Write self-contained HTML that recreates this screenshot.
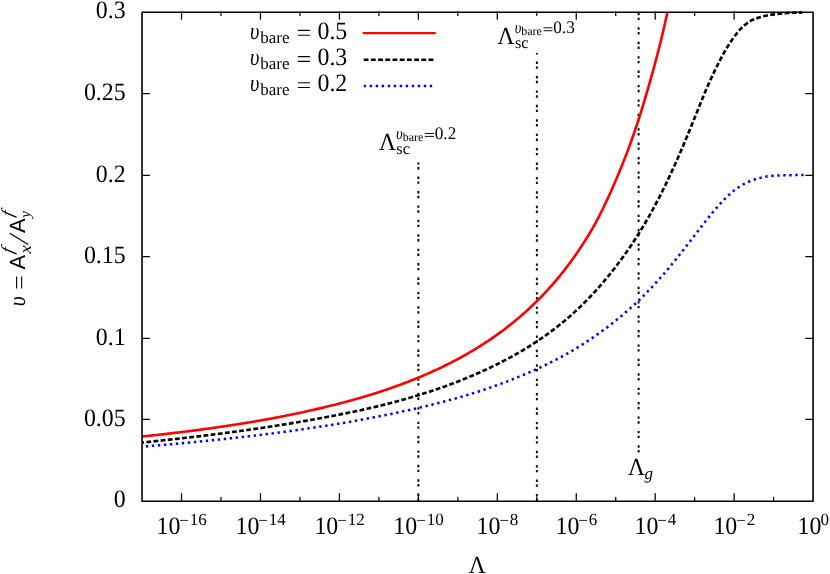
<!DOCTYPE html>
<html><head><meta charset="utf-8"><title>plot</title>
<style>html,body{margin:0;padding:0;background:#fff;}body{width:830px;height:574px;position:relative;overflow:hidden;font-family:"Liberation Serif",serif;}</style>
</head><body>
<svg width="830" height="574" viewBox="0 0 830 574" style="position:absolute;left:0;top:0;will-change:transform;-webkit-font-smoothing:antialiased">
<rect width="830" height="574" fill="#fff"/>
<defs><clipPath id="pc"><rect x="142.05" y="11.9" width="671.03" height="489.00"/></clipPath></defs>
<path d="M181.52,500.9v-7.3M181.52,11.9v7.3M220.99,500.9v-3.6M220.99,11.9v3.6M260.47,500.9v-7.3M260.47,11.9v7.3M299.94,500.9v-3.6M299.94,11.9v3.6M339.41,500.9v-7.3M339.41,11.9v7.3M378.88,500.9v-3.6M378.88,11.9v3.6M418.36,500.9v-7.3M418.36,11.9v7.3M457.83,500.9v-3.6M457.83,11.9v3.6M497.30,500.9v-7.3M497.30,11.9v7.3M536.77,500.9v-3.6M536.77,11.9v3.6M576.25,500.9v-7.3M576.25,11.9v7.3M615.72,500.9v-3.6M615.72,11.9v3.6M655.19,500.9v-7.3M655.19,11.9v7.3M694.66,500.9v-3.6M694.66,11.9v3.6M734.14,500.9v-7.3M734.14,11.9v7.3M773.61,500.9v-3.6M773.61,11.9v3.6M142.05,419.35h7.3M813.08,419.35h-7.3M142.05,338.30h7.3M813.08,338.30h-7.3M142.05,256.50h7.3M813.08,256.50h-7.3M142.05,175.30h7.3M813.08,175.30h-7.3M142.05,93.60h7.3M813.08,93.60h-7.3" stroke="#000" stroke-width="1.25" stroke-linecap="round" fill="none"/>
<path d="M418.36,500.9V162.5" stroke="#000" stroke-width="1.95" stroke-dasharray="2.402 2.402 2.402 7.207" fill="none"/>
<path d="M536.86,501.2V53.1" stroke="#000" stroke-width="1.95" stroke-dasharray="2.402 2.402 2.402 7.207" fill="none"/>
<path d="M638.60,452.5V11.9" stroke="#000" stroke-width="1.95" stroke-dasharray="2.402 2.402 2.402 7.207" fill="none"/>
<path d="M142.05,446.68 L143.38,446.58 L144.70,446.47 L146.03,446.36 L147.35,446.25 L148.68,446.14 L150.00,446.03 L151.33,445.92 L152.66,445.81 L153.98,445.70 L155.31,445.59 L156.63,445.47 L157.96,445.36 L159.28,445.25 L160.61,445.13 L161.94,445.02 L163.26,444.90 L164.59,444.79 L165.91,444.67 L167.24,444.56 L168.57,444.44 L169.89,444.32 L171.22,444.20 L172.54,444.08 L173.87,443.96 L175.19,443.85 L176.52,443.72 L177.85,443.60 L179.17,443.48 L180.50,443.36 L181.82,443.24 L183.15,443.12 L184.47,442.99 L185.80,442.87 L187.13,442.74 L188.45,442.62 L189.78,442.49 L191.10,442.37 L192.43,442.24 L193.75,442.11 L195.08,441.98 L196.41,441.86 L197.73,441.73 L199.06,441.60 L200.38,441.47 L201.71,441.34 L203.03,441.20 L204.36,441.07 L205.69,440.94 L207.01,440.81 L208.34,440.67 L209.66,440.54 L210.99,440.40 L212.31,440.27 L213.64,440.13 L214.97,439.99 L216.29,439.86 L217.62,439.72 L218.94,439.58 L220.27,439.44 L221.60,439.30 L222.92,439.16 L224.25,439.01 L225.57,438.87 L226.90,438.73 L228.22,438.59 L229.55,438.44 L230.88,438.30 L232.20,438.15 L233.53,438.00 L234.85,437.86 L236.18,437.71 L237.50,437.56 L238.83,437.41 L240.16,437.26 L241.48,437.11 L242.81,436.96 L244.13,436.81 L245.46,436.65 L246.78,436.50 L248.11,436.35 L249.44,436.19 L250.76,436.04 L252.09,435.88 L253.41,435.72 L254.74,435.56 L256.06,435.40 L257.39,435.24 L258.72,435.08 L260.04,434.92 L261.37,434.76 L262.69,434.60 L264.02,434.43 L265.34,434.27 L266.67,434.10 L268.00,433.94 L269.32,433.77 L270.65,433.60 L271.97,433.43 L273.30,433.26 L274.63,433.09 L275.95,432.92 L277.28,432.75 L278.60,432.58 L279.93,432.40 L281.25,432.23 L282.58,432.05 L283.91,431.88 L285.23,431.70 L286.56,431.52 L287.88,431.34 L289.21,431.16 L290.53,430.98 L291.86,430.80 L293.19,430.61 L294.51,430.43 L295.84,430.25 L297.16,430.06 L298.49,429.87 L299.81,429.69 L301.14,429.50 L302.47,429.31 L303.79,429.12 L305.12,428.92 L306.44,428.73 L307.77,428.54 L309.09,428.34 L310.42,428.15 L311.75,427.95 L313.07,427.75 L314.40,427.55 L315.72,427.35 L317.05,427.15 L318.37,426.95 L319.70,426.75 L321.03,426.54 L322.35,426.34 L323.68,426.13 L325.00,425.92 L326.33,425.71 L327.66,425.50 L328.98,425.29 L330.31,425.08 L331.63,424.87 L332.96,424.65 L334.28,424.43 L335.61,424.22 L336.94,424.00 L338.26,423.78 L339.59,423.56 L340.91,423.34 L342.24,423.11 L343.56,422.89 L344.89,422.66 L346.22,422.44 L347.54,422.21 L348.87,421.98 L350.19,421.75 L351.52,421.52 L352.84,421.28 L354.17,421.05 L355.50,420.81 L356.82,420.57 L358.15,420.33 L359.47,420.09 L360.80,419.85 L362.12,419.61 L363.45,419.37 L364.78,419.12 L366.10,418.87 L367.43,418.62 L368.75,418.37 L370.08,418.12 L371.41,417.87 L372.73,417.61 L374.06,417.36 L375.38,417.10 L376.71,416.84 L378.03,416.58 L379.36,416.32 L380.69,416.05 L382.01,415.79 L383.34,415.52 L384.66,415.25 L385.99,414.98 L387.31,414.71 L388.64,414.44 L389.97,414.16 L391.29,413.89 L392.62,413.61 L393.94,413.33 L395.27,413.04 L396.59,412.76 L397.92,412.48 L399.25,412.19 L400.57,411.90 L401.90,411.61 L403.22,411.32 L404.55,411.03 L405.87,410.73 L407.20,410.44 L408.53,410.14 L409.85,409.84 L411.18,409.54 L412.50,409.24 L413.83,408.94 L415.15,408.64 L416.48,408.33 L417.81,408.02 L419.13,407.72 L420.46,407.41 L421.78,407.09 L423.11,406.78 L424.44,406.46 L425.76,406.15 L427.09,405.83 L428.41,405.51 L429.74,405.18 L431.06,404.86 L432.39,404.53 L433.72,404.20 L435.04,403.87 L436.37,403.54 L437.69,403.20 L439.02,402.86 L440.34,402.52 L441.67,402.18 L443.00,401.83 L444.32,401.48 L445.65,401.13 L446.97,400.78 L448.30,400.43 L449.62,400.07 L450.95,399.71 L452.28,399.34 L453.60,398.98 L454.93,398.61 L456.25,398.24 L457.58,397.86 L458.90,397.48 L460.23,397.10 L461.56,396.72 L462.88,396.33 L464.21,395.94 L465.53,395.55 L466.86,395.15 L468.18,394.75 L469.51,394.35 L470.84,393.94 L472.16,393.53 L473.49,393.12 L474.81,392.70 L476.14,392.28 L477.47,391.85 L478.79,391.42 L480.12,390.99 L481.44,390.56 L482.77,390.12 L484.09,389.68 L485.42,389.23 L486.75,388.78 L488.07,388.33 L489.40,387.87 L490.72,387.41 L492.05,386.95 L493.37,386.49 L494.70,386.02 L496.03,385.54 L497.35,385.07 L498.68,384.59 L500.00,384.10 L501.33,383.62 L502.65,383.12 L503.98,382.63 L505.31,382.13 L506.63,381.63 L507.96,381.12 L509.28,380.61 L510.61,380.09 L511.93,379.57 L513.26,379.05 L514.59,378.52 L515.91,377.99 L517.24,377.46 L518.56,376.92 L519.89,376.37 L521.21,375.82 L522.54,375.27 L523.87,374.71 L525.19,374.15 L526.52,373.58 L527.84,373.01 L529.17,372.43 L530.50,371.85 L531.82,371.26 L533.15,370.67 L534.47,370.08 L535.80,369.48 L537.12,368.87 L538.45,368.26 L539.78,367.64 L541.10,367.02 L542.43,366.39 L543.75,365.76 L545.08,365.12 L546.40,364.48 L547.73,363.83 L549.06,363.17 L550.38,362.51 L551.71,361.85 L553.03,361.17 L554.36,360.50 L555.68,359.81 L557.01,359.12 L558.34,358.42 L559.66,357.72 L560.99,357.01 L562.31,356.29 L563.64,355.57 L564.96,354.84 L566.29,354.10 L567.62,353.35 L568.94,352.59 L570.27,351.83 L571.59,351.06 L572.92,350.28 L574.24,349.50 L575.57,348.70 L576.90,347.90 L578.22,347.09 L579.55,346.27 L580.87,345.44 L582.20,344.61 L583.53,343.77 L584.85,342.91 L586.18,342.05 L587.50,341.19 L588.83,340.31 L590.15,339.43 L591.48,338.53 L592.81,337.63 L594.13,336.72 L595.46,335.80 L596.78,334.87 L598.11,333.94 L599.43,332.99 L600.76,332.04 L602.09,331.07 L603.41,330.10 L604.74,329.12 L606.06,328.13 L607.39,327.13 L608.71,326.12 L610.04,325.10 L611.37,324.07 L612.69,323.03 L614.02,321.98 L615.34,320.92 L616.67,319.86 L617.99,318.78 L619.32,317.69 L620.65,316.59 L621.97,315.48 L623.30,314.36 L624.62,313.23 L625.95,312.08 L627.28,310.93 L628.60,309.76 L629.93,308.58 L631.25,307.38 L632.58,306.18 L633.90,304.96 L635.23,303.73 L636.56,302.48 L637.88,301.23 L639.21,299.96 L640.53,298.68 L641.86,297.38 L643.18,296.07 L644.51,294.75 L645.84,293.41 L647.16,292.06 L648.49,290.69 L649.81,289.32 L651.14,287.92 L652.46,286.52 L653.79,285.10 L655.12,283.66 L656.44,282.22 L657.77,280.75 L659.09,279.28 L660.42,277.79 L661.74,276.29 L663.07,274.77 L664.40,273.24 L665.72,271.69 L667.05,270.14 L668.37,268.57 L669.70,266.98 L671.02,265.39 L672.35,263.78 L673.68,262.16 L675.00,260.52 L676.33,258.88 L677.65,257.22 L678.98,255.56 L680.31,253.88 L681.63,252.20 L682.96,250.50 L684.28,248.80 L685.61,247.09 L686.93,245.38 L688.26,243.66 L689.59,241.93 L690.91,240.20 L692.24,238.47 L693.56,236.74 L694.89,235.00 L696.21,233.27 L697.54,231.54 L698.87,229.82 L700.19,228.09 L701.52,226.38 L702.84,224.68 L704.17,222.98 L705.49,221.30 L706.82,219.62 L708.15,217.97 L709.47,216.33 L710.80,214.71 L712.12,213.11 L713.45,211.53 L714.77,209.98 L716.10,208.45 L717.43,206.94 L718.75,205.44 L720.08,203.97 L721.40,202.53 L722.73,201.11 L724.05,199.73 L725.38,198.37 L726.71,197.06 L728.03,195.78 L729.36,194.55 L730.68,193.36 L732.01,192.21 L733.34,191.11 L734.66,190.06 L735.99,189.06 L737.31,188.11 L738.64,187.21 L739.96,186.36 L741.29,185.55 L742.62,184.77 L743.94,184.04 L745.27,183.34 L746.59,182.68 L747.92,182.06 L749.24,181.48 L750.57,180.93 L751.90,180.41 L753.22,179.93 L754.55,179.47 L755.87,179.05 L757.20,178.66 L758.52,178.29 L759.85,177.95 L761.18,177.63 L762.50,177.33 L763.83,177.06 L765.15,176.81 L766.48,176.58 L767.80,176.36 L769.13,176.17 L770.46,176.01 L771.78,175.87 L773.11,175.75 L774.43,175.65 L775.76,175.58 L777.08,175.51 L778.41,175.46 L779.74,175.42 L781.06,175.39 L782.39,175.36 L783.71,175.34 L785.04,175.31 L786.37,175.29 L787.69,175.26 L789.02,175.23 L790.34,175.20 L791.67,175.16 L792.99,175.13 L794.32,175.10 L795.65,175.07 L796.97,175.05 L798.30,175.03 L799.62,175.01 L800.95,175.00 L802.27,174.98 L803.60,174.97" stroke="#0000ff" stroke-width="2.55" stroke-dasharray="2.402 3.615" stroke-dashoffset="2.2" fill="none" stroke-linejoin="round"/>
<path d="M142.05,442.53 L143.38,442.40 L144.70,442.26 L146.03,442.12 L147.35,441.99 L148.68,441.85 L150.01,441.71 L151.33,441.57 L152.66,441.43 L153.98,441.29 L155.31,441.15 L156.64,441.01 L157.96,440.87 L159.29,440.73 L160.62,440.59 L161.94,440.45 L163.27,440.30 L164.60,440.16 L165.92,440.02 L167.25,439.87 L168.58,439.73 L169.90,439.58 L171.23,439.44 L172.56,439.29 L173.88,439.14 L175.21,438.99 L176.54,438.85 L177.86,438.70 L179.19,438.55 L180.52,438.40 L181.85,438.25 L183.17,438.10 L184.50,437.95 L185.83,437.79 L187.16,437.64 L188.48,437.49 L189.81,437.33 L191.14,437.18 L192.47,437.02 L193.79,436.87 L195.12,436.71 L196.45,436.55 L197.78,436.40 L199.10,436.24 L200.43,436.08 L201.76,435.92 L203.09,435.76 L204.42,435.60 L205.74,435.43 L207.07,435.27 L208.40,435.11 L209.73,434.95 L211.06,434.78 L212.38,434.62 L213.71,434.45 L215.04,434.28 L216.37,434.12 L217.70,433.95 L219.03,433.78 L220.35,433.61 L221.68,433.44 L223.01,433.27 L224.34,433.10 L225.67,432.92 L227.00,432.75 L228.33,432.58 L229.65,432.40 L230.98,432.22 L232.31,432.05 L233.64,431.87 L234.97,431.69 L236.30,431.51 L237.63,431.33 L238.96,431.15 L240.28,430.97 L241.61,430.79 L242.94,430.61 L244.27,430.42 L245.60,430.24 L246.93,430.05 L248.26,429.86 L249.59,429.68 L250.92,429.49 L252.25,429.30 L253.58,429.11 L254.90,428.92 L256.23,428.72 L257.56,428.53 L258.89,428.34 L260.22,428.14 L261.55,427.94 L262.88,427.75 L264.21,427.55 L265.54,427.35 L266.87,427.15 L268.20,426.95 L269.53,426.75 L270.86,426.54 L272.19,426.34 L273.52,426.13 L274.85,425.93 L276.18,425.72 L277.51,425.51 L278.84,425.30 L280.17,425.09 L281.50,424.88 L282.83,424.66 L284.15,424.45 L285.48,424.23 L286.81,424.02 L288.14,423.80 L289.47,423.58 L290.80,423.36 L292.13,423.14 L293.46,422.92 L294.79,422.69 L296.12,422.47 L297.45,422.24 L298.78,422.01 L300.11,421.79 L301.44,421.56 L302.77,421.32 L304.11,421.09 L305.44,420.86 L306.77,420.63 L308.10,420.39 L309.44,420.16 L310.77,419.92 L312.11,419.68 L313.44,419.45 L314.78,419.21 L316.11,418.97 L317.45,418.72 L318.79,418.48 L320.12,418.24 L321.46,417.99 L322.80,417.75 L324.14,417.50 L325.47,417.25 L326.81,417.00 L328.15,416.75 L329.49,416.50 L330.83,416.24 L332.17,415.99 L333.51,415.73 L334.85,415.47 L336.19,415.21 L337.53,414.95 L338.87,414.69 L340.21,414.42 L341.55,414.16 L342.89,413.89 L344.23,413.62 L345.57,413.35 L346.91,413.08 L348.25,412.80 L349.59,412.53 L350.94,412.25 L352.28,411.97 L353.62,411.69 L354.96,411.40 L356.30,411.12 L357.64,410.83 L358.98,410.54 L360.32,410.25 L361.66,409.96 L363.00,409.66 L364.34,409.37 L365.67,409.07 L367.01,408.76 L368.35,408.46 L369.69,408.16 L371.03,407.85 L372.36,407.54 L373.70,407.22 L375.04,406.91 L376.38,406.59 L377.71,406.27 L379.05,405.95 L380.38,405.63 L381.72,405.30 L383.05,404.97 L384.38,404.64 L385.72,404.30 L387.05,403.97 L388.38,403.63 L389.71,403.28 L391.05,402.94 L392.38,402.59 L393.71,402.24 L395.04,401.88 L396.36,401.53 L397.69,401.17 L399.02,400.81 L400.35,400.44 L401.67,400.07 L403.00,399.70 L404.32,399.33 L405.65,398.95 L406.97,398.57 L408.30,398.19 L409.63,397.80 L410.95,397.41 L412.28,397.02 L413.60,396.62 L414.93,396.23 L416.25,395.83 L417.58,395.42 L418.91,395.02 L420.23,394.61 L421.56,394.19 L422.88,393.78 L424.21,393.36 L425.54,392.93 L426.86,392.51 L428.19,392.08 L429.51,391.65 L430.84,391.21 L432.16,390.77 L433.49,390.33 L434.82,389.88 L436.14,389.43 L437.47,388.98 L438.79,388.52 L440.12,388.06 L441.44,387.60 L442.77,387.13 L444.10,386.66 L445.42,386.18 L446.75,385.70 L448.07,385.22 L449.40,384.73 L450.72,384.24 L452.05,383.75 L453.38,383.25 L454.70,382.74 L456.03,382.24 L457.35,381.72 L458.68,381.21 L460.00,380.69 L461.33,380.17 L462.66,379.64 L463.98,379.10 L465.31,378.57 L466.63,378.03 L467.96,377.48 L469.28,376.93 L470.61,376.37 L471.94,375.81 L473.26,375.25 L474.59,374.68 L475.91,374.11 L477.24,373.53 L478.57,372.94 L479.89,372.35 L481.22,371.76 L482.54,371.16 L483.87,370.56 L485.19,369.95 L486.52,369.33 L487.85,368.71 L489.17,368.09 L490.50,367.46 L491.82,366.83 L493.15,366.18 L494.47,365.54 L495.80,364.89 L497.13,364.23 L498.45,363.57 L499.78,362.90 L501.10,362.23 L502.43,361.54 L503.75,360.86 L505.08,360.16 L506.41,359.47 L507.73,358.76 L509.06,358.05 L510.38,357.33 L511.71,356.60 L513.03,355.87 L514.36,355.13 L515.69,354.38 L517.01,353.63 L518.34,352.87 L519.66,352.10 L520.99,351.33 L522.31,350.54 L523.64,349.75 L524.97,348.95 L526.29,348.15 L527.62,347.33 L528.94,346.51 L530.27,345.68 L531.60,344.84 L532.92,343.99 L534.25,343.13 L535.57,342.27 L536.90,341.39 L538.22,340.51 L539.55,339.62 L540.88,338.71 L542.20,337.80 L543.53,336.88 L544.85,335.95 L546.18,335.01 L547.50,334.06 L548.83,333.10 L550.16,332.13 L551.48,331.14 L552.81,330.15 L554.13,329.15 L555.46,328.13 L556.78,327.11 L558.11,326.07 L559.44,325.02 L560.76,323.96 L562.09,322.89 L563.41,321.81 L564.74,320.71 L566.06,319.60 L567.39,318.47 L568.72,317.33 L570.04,316.17 L571.37,315.00 L572.69,313.81 L574.02,312.61 L575.34,311.39 L576.67,310.15 L578.00,308.91 L579.32,307.64 L580.65,306.36 L581.97,305.07 L583.30,303.76 L584.63,302.43 L585.95,301.09 L587.28,299.74 L588.60,298.36 L589.93,296.98 L591.25,295.58 L592.58,294.16 L593.91,292.73 L595.23,291.29 L596.56,289.82 L597.88,288.35 L599.21,286.86 L600.53,285.35 L601.86,283.82 L603.19,282.28 L604.51,280.72 L605.84,279.14 L607.16,277.54 L608.49,275.92 L609.81,274.28 L611.14,272.62 L612.47,270.95 L613.79,269.26 L615.12,267.55 L616.44,265.82 L617.77,264.07 L619.09,262.31 L620.42,260.53 L621.75,258.73 L623.07,256.91 L624.40,255.07 L625.72,253.20 L627.05,251.31 L628.38,249.40 L629.70,247.46 L631.03,245.50 L632.35,243.52 L633.68,241.51 L635.00,239.47 L636.33,237.41 L637.66,235.32 L638.98,233.21 L640.31,231.07 L641.63,228.90 L642.96,226.70 L644.28,224.48 L645.61,222.23 L646.94,219.95 L648.26,217.64 L649.59,215.30 L650.91,212.93 L652.24,210.53 L653.56,208.11 L654.89,205.65 L656.22,203.16 L657.54,200.64 L658.87,198.09 L660.19,195.50 L661.52,192.89 L662.84,190.24 L664.17,187.56 L665.50,184.85 L666.82,182.11 L668.15,179.34 L669.47,176.53 L670.80,173.69 L672.12,170.82 L673.45,167.92 L674.78,164.99 L676.10,162.03 L677.43,159.03 L678.75,156.01 L680.08,152.96 L681.41,149.88 L682.73,146.77 L684.06,143.64 L685.38,140.48 L686.71,137.29 L688.03,134.09 L689.36,130.87 L690.69,127.62 L692.01,124.36 L693.34,121.09 L694.66,117.81 L695.99,114.51 L697.31,111.22 L698.64,107.92 L699.97,104.62 L701.29,101.32 L702.63,98.04 L703.99,94.77 L705.36,91.52 L706.75,88.29 L708.15,85.08 L709.56,81.91 L710.98,78.78 L712.40,75.69 L713.82,72.65 L715.25,69.66 L716.68,66.72 L718.10,63.86 L719.52,61.06 L720.94,58.33 L722.35,55.68 L723.78,53.11 L725.22,50.62 L726.65,48.23 L728.08,45.92 L729.50,43.71 L730.89,41.59 L732.25,39.56 L733.58,37.63 L734.91,35.80 L736.24,34.07 L737.56,32.43 L738.89,30.88 L740.21,29.42 L741.54,28.05 L742.86,26.77 L744.19,25.58 L745.51,24.46 L746.79,23.42 L748.02,22.45 L749.23,21.60 L750.44,20.86 L751.64,20.21 L752.85,19.65 L754.10,19.15 L755.37,18.70 L756.65,18.28 L757.94,17.88 L759.22,17.48 L760.51,17.07 L761.81,16.68 L763.10,16.33 L764.38,16.00 L765.67,15.71 L766.95,15.44 L768.22,15.19 L769.49,14.96 L770.75,14.76 L772.01,14.57 L773.27,14.40 L774.52,14.24 L775.77,14.10 L777.02,13.96 L778.27,13.84 L779.52,13.73 L780.77,13.63 L782.02,13.53 L783.27,13.40 L784.52,13.27 L785.78,13.13 L787.03,13.01 L788.29,12.90 L789.56,12.81 L790.83,12.76 L792.10,12.73 L793.37,12.69 L794.65,12.67 L795.92,12.64 L797.20,12.62 L798.48,12.59 L799.76,12.58 L801.04,12.56 L802.33,12.54" stroke="#000" stroke-width="2.65" stroke-dasharray="4.805 2.382" stroke-dashoffset="2.85" fill="none" stroke-linejoin="round"/>
<path d="M142.05,436.52 L143.11,436.41 L144.17,436.30 L145.24,436.19 L146.30,436.08 L147.36,435.96 L148.42,435.85 L149.49,435.74 L150.55,435.63 L151.61,435.51 L152.67,435.40 L153.73,435.28 L154.80,435.17 L155.86,435.05 L156.92,434.93 L157.98,434.82 L159.05,434.70 L160.11,434.58 L161.17,434.46 L162.23,434.34 L163.30,434.22 L164.36,434.10 L165.42,433.98 L166.49,433.86 L167.55,433.74 L168.61,433.61 L169.67,433.49 L170.74,433.37 L171.80,433.24 L172.86,433.12 L173.93,432.99 L174.99,432.86 L176.05,432.74 L177.12,432.61 L178.18,432.48 L179.24,432.35 L180.30,432.22 L181.37,432.09 L182.43,431.96 L183.49,431.83 L184.56,431.70 L185.62,431.57 L186.68,431.44 L187.75,431.30 L188.81,431.17 L189.87,431.03 L190.94,430.90 L192.00,430.76 L193.06,430.62 L194.13,430.49 L195.19,430.35 L196.26,430.21 L197.32,430.07 L198.38,429.93 L199.45,429.79 L200.51,429.65 L201.57,429.51 L202.64,429.36 L203.70,429.22 L204.77,429.08 L205.83,428.93 L206.89,428.78 L207.96,428.64 L209.02,428.49 L210.08,428.34 L211.15,428.20 L212.21,428.05 L213.28,427.90 L214.34,427.75 L215.40,427.59 L216.47,427.44 L217.53,427.29 L218.60,427.14 L219.66,426.98 L220.73,426.83 L221.79,426.67 L222.85,426.52 L223.92,426.36 L224.98,426.20 L226.05,426.04 L227.11,425.88 L228.18,425.72 L229.24,425.56 L230.30,425.40 L231.37,425.24 L232.43,425.07 L233.50,424.91 L234.56,424.74 L235.63,424.58 L236.69,424.41 L237.76,424.24 L238.82,424.07 L239.88,423.90 L240.95,423.73 L242.01,423.56 L243.08,423.39 L244.14,423.22 L245.21,423.04 L246.27,422.87 L247.34,422.69 L248.40,422.52 L249.47,422.34 L250.53,422.16 L251.60,421.98 L252.66,421.80 L253.73,421.62 L254.79,421.44 L255.86,421.26 L256.92,421.08 L257.98,420.89 L259.05,420.71 L260.11,420.52 L261.18,420.33 L262.24,420.15 L263.31,419.96 L264.37,419.77 L265.44,419.58 L266.50,419.38 L267.57,419.19 L268.63,419.00 L269.70,418.80 L270.76,418.61 L271.83,418.41 L272.90,418.21 L273.96,418.01 L275.03,417.81 L276.09,417.61 L277.16,417.41 L278.22,417.20 L279.29,417.00 L280.35,416.79 L281.42,416.59 L282.48,416.38 L283.55,416.17 L284.61,415.96 L285.68,415.75 L286.74,415.54 L287.81,415.33 L288.87,415.11 L289.94,414.90 L291.00,414.68 L292.07,414.46 L293.13,414.24 L294.20,414.02 L295.27,413.80 L296.33,413.58 L297.40,413.36 L298.46,413.13 L299.53,412.91 L300.59,412.68 L301.66,412.45 L302.72,412.22 L303.79,411.99 L304.86,411.76 L305.93,411.53 L306.99,411.29 L308.06,411.06 L309.13,410.82 L310.20,410.58 L311.27,410.34 L312.34,410.10 L313.40,409.86 L314.47,409.61 L315.54,409.37 L316.61,409.12 L317.69,408.87 L318.76,408.63 L319.83,408.38 L320.90,408.12 L321.97,407.87 L323.04,407.62 L324.11,407.36 L325.19,407.10 L326.26,406.84 L327.33,406.58 L328.40,406.32 L329.48,406.06 L330.55,405.79 L331.62,405.53 L332.69,405.26 L333.77,404.99 L334.84,404.72 L335.92,404.45 L336.99,404.17 L338.06,403.90 L339.14,403.62 L340.21,403.34 L341.28,403.06 L342.36,402.78 L343.43,402.49 L344.51,402.21 L345.58,401.92 L346.65,401.63 L347.73,401.34 L348.80,401.05 L349.88,400.76 L350.95,400.46 L352.02,400.17 L353.10,399.87 L354.17,399.57 L355.24,399.26 L356.32,398.96 L357.39,398.65 L358.47,398.35 L359.54,398.04 L360.61,397.73 L361.68,397.41 L362.76,397.10 L363.83,396.78 L364.90,396.46 L365.98,396.14 L367.05,395.82 L368.12,395.49 L369.19,395.17 L370.26,394.84 L371.34,394.51 L372.41,394.18 L373.48,393.84 L374.55,393.51 L375.62,393.17 L376.69,392.83 L377.76,392.48 L378.83,392.14 L379.90,391.79 L380.97,391.44 L382.04,391.09 L383.11,390.74 L384.18,390.38 L385.24,390.02 L386.31,389.66 L387.38,389.30 L388.45,388.94 L389.51,388.57 L390.58,388.20 L391.65,387.83 L392.71,387.45 L393.78,387.08 L394.84,386.70 L395.91,386.32 L396.97,385.93 L398.03,385.55 L399.10,385.16 L400.16,384.77 L401.22,384.37 L402.28,383.98 L403.35,383.58 L404.41,383.18 L405.47,382.77 L406.53,382.37 L407.59,381.96 L408.66,381.55 L409.72,381.13 L410.78,380.71 L411.84,380.29 L412.90,379.87 L413.97,379.45 L415.03,379.02 L416.09,378.59 L417.15,378.15 L418.21,377.72 L419.28,377.28 L420.34,376.83 L421.40,376.39 L422.46,375.94 L423.52,375.49 L424.59,375.03 L425.65,374.57 L426.71,374.11 L427.77,373.65 L428.83,373.18 L429.90,372.71 L430.96,372.23 L432.02,371.76 L433.08,371.28 L434.14,370.79 L435.21,370.30 L436.27,369.81 L437.33,369.32 L438.39,368.82 L439.45,368.32 L440.52,367.82 L441.58,367.31 L442.64,366.80 L443.70,366.28 L444.76,365.76 L445.83,365.24 L446.89,364.71 L447.95,364.18 L449.01,363.65 L450.07,363.11 L451.14,362.57 L452.20,362.02 L453.26,361.47 L454.32,360.92 L455.39,360.36 L456.45,359.80 L457.51,359.23 L458.57,358.66 L459.63,358.08 L460.70,357.51 L461.76,356.92 L462.82,356.33 L463.88,355.74 L464.94,355.15 L466.01,354.55 L467.07,353.94 L468.13,353.33 L469.19,352.72 L470.25,352.10 L471.32,351.47 L472.38,350.84 L473.44,350.21 L474.50,349.57 L475.56,348.93 L476.63,348.28 L477.69,347.63 L478.75,346.97 L479.81,346.30 L480.87,345.63 L481.94,344.96 L483.00,344.28 L484.06,343.59 L485.12,342.90 L486.18,342.21 L487.25,341.51 L488.31,340.80 L489.37,340.09 L490.43,339.37 L491.49,338.64 L492.56,337.91 L493.62,337.18 L494.68,336.44 L495.74,335.69 L496.80,334.93 L497.87,334.17 L498.93,333.40 L499.99,332.63 L501.05,331.85 L502.11,331.07 L503.18,330.27 L504.24,329.47 L505.30,328.67 L506.36,327.85 L507.42,327.03 L508.49,326.21 L509.55,325.37 L510.61,324.53 L511.67,323.68 L512.73,322.83 L513.80,321.96 L514.86,321.09 L515.92,320.21 L516.98,319.33 L518.04,318.43 L519.11,317.53 L520.17,316.62 L521.23,315.71 L522.29,314.78 L523.35,313.85 L524.42,312.90 L525.48,311.95 L526.54,310.99 L527.60,310.02 L528.66,309.05 L529.73,308.06 L530.79,307.07 L531.85,306.06 L532.91,305.05 L533.97,304.02 L535.04,302.99 L536.10,301.95 L537.16,300.90 L538.22,299.84 L539.28,298.76 L540.35,297.68 L541.41,296.59 L542.47,295.49 L543.53,294.37 L544.60,293.25 L545.66,292.11 L546.72,290.97 L547.78,289.81 L548.84,288.64 L549.91,287.46 L550.97,286.27 L552.03,285.07 L553.09,283.85 L554.15,282.62 L555.22,281.38 L556.28,280.13 L557.34,278.87 L558.40,277.59 L559.46,276.30 L560.53,274.99 L561.59,273.68 L562.65,272.35 L563.71,271.00 L564.77,269.64 L565.84,268.27 L566.90,266.88 L567.96,265.48 L569.02,264.06 L570.08,262.63 L571.15,261.18 L572.21,259.72 L573.27,258.24 L574.33,256.75 L575.39,255.24 L576.46,253.71 L577.52,252.17 L578.58,250.60 L579.64,249.03 L580.70,247.43 L581.77,245.82 L582.83,244.18 L583.89,242.53 L584.95,240.86 L586.01,239.18 L587.08,237.47 L588.14,235.74 L589.20,233.99 L590.26,232.23 L591.32,230.44 L592.38,228.63 L593.43,226.80 L594.46,224.95 L595.50,223.07 L596.52,221.18 L597.54,219.26 L598.56,217.32 L599.57,215.35 L600.58,213.36 L601.58,211.35 L602.59,209.31 L603.60,207.24 L604.60,205.15 L605.61,203.03 L606.62,200.89 L607.64,198.72 L608.66,196.52 L609.68,194.30 L610.70,192.04 L611.72,189.76 L612.73,187.45 L613.75,185.10 L614.77,182.73 L615.80,180.32 L616.82,177.88 L617.86,175.41 L618.91,172.91 L619.96,170.37 L621.02,167.80 L622.08,165.19 L623.15,162.54 L624.21,159.86 L625.27,157.15 L626.33,154.39 L627.39,151.59 L628.46,148.76 L629.52,145.88 L630.58,142.97 L631.64,140.01 L632.71,137.01 L633.77,133.96 L634.83,130.87 L635.89,127.73 L636.95,124.55 L638.02,121.32 L639.08,118.04 L640.14,114.71 L641.20,111.33 L642.26,107.89 L643.33,104.40 L644.39,100.86 L645.45,97.26 L646.52,93.61 L647.61,89.90 L648.70,86.12 L649.80,82.29 L650.91,78.39 L652.03,74.43 L653.15,70.40 L654.27,66.31 L655.40,62.15 L656.52,57.91 L657.65,53.61 L658.78,49.23 L659.90,44.77 L661.02,40.24 L662.13,35.62 L663.24,30.93 L664.34,26.15 L665.44,21.28 L666.52,16.33 L667.59,11.28 L668.65,6.14 L669.71,0.91" stroke="#ff0000" stroke-width="2.6" fill="none" stroke-linejoin="round" clip-path="url(#pc)"/>
<path d="M363.7,33.1H434.8" stroke="#ff0000" stroke-width="2.4" stroke-linecap="round" fill="none"/>
<path d="M363.7,59.7H434.8" stroke="#000" stroke-width="2.55" stroke-dasharray="4.805 2.402" fill="none"/>
<path d="M363.7,86.0H434.8" stroke="#0000ff" stroke-width="2.45" stroke-dasharray="2.402 3.604" fill="none"/>
<rect x="142.05" y="12.200000000000001" width="671.03" height="489.00" fill="none" stroke="#000" stroke-width="1.6" stroke-linejoin="round"/>
<g style="font-family:'Liberation Serif',serif" font-size="24" fill="#000" text-rendering="geometricPrecision">
<text transform="translate(125.70,507.10) scale(0.955,1)" font-size="25" text-anchor="end">0</text>
<text transform="translate(125.70,425.55) scale(0.955,1)" font-size="25" text-anchor="end">0.05</text>
<text transform="translate(125.70,344.50) scale(0.955,1)" font-size="25" text-anchor="end">0.1</text>
<text transform="translate(125.70,262.70) scale(0.955,1)" font-size="25" text-anchor="end">0.15</text>
<text transform="translate(125.70,181.50) scale(0.955,1)" font-size="25" text-anchor="end">0.2</text>
<text transform="translate(125.70,99.80) scale(0.955,1)" font-size="25" text-anchor="end">0.25</text>
<text transform="translate(125.70,18.10) scale(0.955,1)" font-size="25" text-anchor="end">0.3</text>
<text transform="translate(180.40,533.70) scale(0.955,1)" font-size="25" text-anchor="end">10</text>
<text transform="translate(179.35,525.00)" font-size="17" text-anchor="start"><tspan dy="1.1">−</tspan><tspan dy="-1.1" dx="0.9">16</tspan></text>
<text transform="translate(259.35,533.70) scale(0.955,1)" font-size="25" text-anchor="end">10</text>
<text transform="translate(258.30,525.00)" font-size="17" text-anchor="start"><tspan dy="1.1">−</tspan><tspan dy="-1.1" dx="0.9">14</tspan></text>
<text transform="translate(338.29,533.70) scale(0.955,1)" font-size="25" text-anchor="end">10</text>
<text transform="translate(337.24,525.00)" font-size="17" text-anchor="start"><tspan dy="1.1">−</tspan><tspan dy="-1.1" dx="0.9">12</tspan></text>
<text transform="translate(417.24,533.70) scale(0.955,1)" font-size="25" text-anchor="end">10</text>
<text transform="translate(416.19,525.00)" font-size="17" text-anchor="start"><tspan dy="1.1">−</tspan><tspan dy="-1.1" dx="0.9">10</tspan></text>
<text transform="translate(500.43,533.70) scale(0.955,1)" font-size="25" text-anchor="end">10</text>
<text transform="translate(499.38,525.00)" font-size="17" text-anchor="start"><tspan dy="1.1">−</tspan><tspan dy="-1.1" dx="0.9">8</tspan></text>
<text transform="translate(579.38,533.70) scale(0.955,1)" font-size="25" text-anchor="end">10</text>
<text transform="translate(578.33,525.00)" font-size="17" text-anchor="start"><tspan dy="1.1">−</tspan><tspan dy="-1.1" dx="0.9">6</tspan></text>
<text transform="translate(658.32,533.70) scale(0.955,1)" font-size="25" text-anchor="end">10</text>
<text transform="translate(657.27,525.00)" font-size="17" text-anchor="start"><tspan dy="1.1">−</tspan><tspan dy="-1.1" dx="0.9">4</tspan></text>
<text transform="translate(737.27,533.70) scale(0.955,1)" font-size="25" text-anchor="end">10</text>
<text transform="translate(736.22,525.00)" font-size="17" text-anchor="start"><tspan dy="1.1">−</tspan><tspan dy="-1.1" dx="0.9">2</tspan></text>
<text transform="translate(821.38,533.70) scale(0.955,1)" font-size="25" text-anchor="end">10</text>
<text transform="translate(820.53,525.00)" font-size="17" text-anchor="start">0</text>
<text transform="translate(477.30,573.30) scale(0.95,1)" font-size="24.6" text-anchor="middle">Λ</text>
<text transform="translate(250.10,38.70) scale(0.85,1)" font-size="24" text-anchor="start" font-style="italic">υ</text>
<text transform="translate(260.20,42.50)" font-size="17" text-anchor="start">bare</text>
<path d="M297.90,30.40h12.0M297.90,35.20h12.0" stroke="#000" stroke-width="1.15" fill="none"/>
<text transform="translate(347.30,38.70) scale(0.955,1)" font-size="25" text-anchor="end">0.5</text>
<text transform="translate(250.10,64.90) scale(0.85,1)" font-size="24" text-anchor="start" font-style="italic">υ</text>
<text transform="translate(260.20,68.70)" font-size="17" text-anchor="start">bare</text>
<path d="M297.90,56.60h12.0M297.90,61.40h12.0" stroke="#000" stroke-width="1.15" fill="none"/>
<text transform="translate(347.30,64.90) scale(0.955,1)" font-size="25" text-anchor="end">0.3</text>
<text transform="translate(250.10,91.00) scale(0.85,1)" font-size="24" text-anchor="start" font-style="italic">υ</text>
<text transform="translate(260.20,94.80)" font-size="17" text-anchor="start">bare</text>
<path d="M297.90,82.70h12.0M297.90,87.50h12.0" stroke="#000" stroke-width="1.15" fill="none"/>
<text transform="translate(347.30,91.00) scale(0.955,1)" font-size="25" text-anchor="end">0.2</text>
<text transform="translate(379.00,149.70) scale(0.95,1)" font-size="24.6" text-anchor="start">Λ</text><text transform="translate(396.30,153.70)" font-size="16.4" text-anchor="start">sc</text><text transform="translate(396.05,139.10) scale(0.85,1)" font-size="17" text-anchor="start" font-style="italic">υ</text><text transform="translate(402.66,140.60)" font-size="12" text-anchor="start">bare</text><path d="M424.90,133.50h9.0M424.90,136.40h9.0" stroke="#000" stroke-width="0.95" fill="none"/><text transform="translate(456.30,139.10) scale(0.97,1)" font-size="17.8" text-anchor="end">0.2</text>
<text transform="translate(497.60,44.00) scale(0.95,1)" font-size="24.6" text-anchor="start">Λ</text><text transform="translate(514.90,48.00)" font-size="16.4" text-anchor="start">sc</text><text transform="translate(514.65,33.40) scale(0.85,1)" font-size="17" text-anchor="start" font-style="italic">υ</text><text transform="translate(521.26,34.90)" font-size="12" text-anchor="start">bare</text><path d="M543.50,27.80h9.0M543.50,30.70h9.0" stroke="#000" stroke-width="0.95" fill="none"/><text transform="translate(574.90,33.40) scale(0.97,1)" font-size="17.8" text-anchor="end">0.3</text>
<text transform="translate(628.00,475.00) scale(0.95,1)" font-size="24.6" text-anchor="start">Λ</text>
<text transform="translate(644.60,478.60)" font-size="17" text-anchor="start" font-style="italic">g</text>
<g transform="translate(25,306.2) rotate(-90)">
<text transform="translate(0.00,0.00) scale(0.9,1)" font-size="24" text-anchor="start" font-style="italic">υ</text>
<path d="M17.6,-8.4h12M17.6,-3.35h12" stroke="#000" stroke-width="1.1" fill="none"/>
<text x="36.6" y="0" font-size="22" style="font-family:'Liberation Sans',sans-serif">A</text><text transform="translate(52.30,-12.0) skewX(-13) scale(1.08,1)" font-size="17" font-style="italic">f</text><text transform="translate(52.80,5.50) scale(1.1,1)" font-size="17" text-anchor="start" font-style="italic">x</text>
<path d="M61.6,3.2L73,-15.2" stroke="#000" stroke-width="1.2" fill="none"/>
<text x="73.2" y="0" font-size="22" style="font-family:'Liberation Sans',sans-serif">A</text><text transform="translate(88.90,-12.0) skewX(-13) scale(1.08,1)" font-size="17" font-style="italic">f</text><text transform="translate(88.50,5.40)" font-size="15" text-anchor="start" font-style="italic">y</text>
</g>
</g>
</svg>
</body></html>
